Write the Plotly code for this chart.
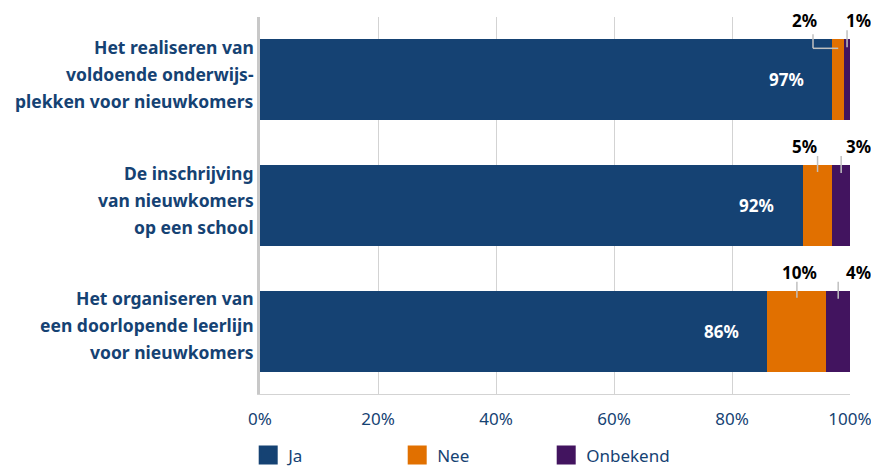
import plotly.graph_objects as go

# ---- data ----
categories = [
    ["Het realiseren van", "voldoende onderwijs-", "plekken voor nieuwkomers"],
    ["De inschrijving", "van nieuwkomers", "op een school"],
    ["Het organiseren van", "een doorlopende leerlijn", "voor nieuwkomers"],
]
ja = [97, 92, 86]
nee = [2, 5, 10]
onbekend = [1, 3, 4]
x_ticks = [0, 20, 40, 60, 80, 100]
x_ticklabels = ["0%", "20%", "40%", "60%", "80%", "100%"]
series_names = ["Ja", "Nee", "Onbekend"]

# ---- style ----
BLUE = "#154273"
ORANGE = "#e17000"
PURPLE = "#42145f"
TEXT = "#154273"
GRID = "#d3d3d3"
FONT = "Noto Sans"
# the page body has an 8px margin, so the figure is sized to the remaining viewport
W, H = 871, 461
ML, MR, MT, MB = 252, 29, 9, 75
BARW = 0.645
PLOT_W = W - ML - MR
PX_X = PLOT_W / 100.0

n = len(categories)
ypos = [n - 1 - i for i in range(n)]  # first category on top

fig = go.Figure()
colors = [BLUE, ORANGE, PURPLE]
vals = [ja, nee, onbekend]
for name, col, v in zip(series_names, colors, vals):
    fig.add_trace(go.Bar(
        y=ypos, x=v, orientation="h", name=name,
        marker=dict(color=col, line=dict(width=0)),
        width=BARW, showlegend=False, hoverinfo="x+name",
    ))
# legend proxies (larger square symbols)
for name, col in zip(series_names, colors):
    fig.add_trace(go.Scatter(
        x=[None], y=[None], mode="markers", name=name,
        marker=dict(symbol="square", size=16, color=col, line=dict(width=3, color=col)),
        showlegend=True,
    ))

annotations = []
shapes = []
LEAD = dict(color="#c0c0c0", width=1.5)
for i, y in enumerate(ypos):
    lines = categories[i]
    for k, line in enumerate(lines):
        annotations.append(dict(
            xref="paper", yref="y", x=0, y=y, xanchor="right", yanchor="middle",
            xshift=-4, yshift=6 + (len(lines) - 1) / 2 * 27 - k * 27,
            text=line, showarrow=False,
            font=dict(family=FONT, size=17.5, color=TEXT, weight="bold"),
        ))
    total = ja[i] + nee[i] + onbekend[i]
    annotations.append(dict(
        xref="x", yref="y", x=ja[i], y=y, xanchor="center", yanchor="middle",
        xshift=-46, text=f"{ja[i]}%", showarrow=False,
        font=dict(family=FONT, size=17, color="white", weight="bold"),
    ))
    top = y + BARW / 2
    annotations.append(dict(
        xref="x", yref="y", x=total, y=top, xanchor="right", yanchor="bottom",
        xshift=-31, yshift=5, text=f"{nee[i]}%", showarrow=False,
        font=dict(family=FONT, size=17, color="black", weight="bold"),
    ))
    annotations.append(dict(
        xref="x", yref="y", x=total, y=top, xanchor="left", yanchor="bottom",
        xshift=-6, yshift=5, text=f"{onbekend[i]}%", showarrow=False,
        font=dict(family=FONT, size=17, color="black", weight="bold"),
    ))
    nee_c = ja[i] + nee[i] / 2
    onb_c = ja[i] + nee[i] + onbekend[i] / 2
    label_right = total - 31 / PX_X
    if nee_c > label_right:
        ex = label_right - 6 / PX_X
        shapes.append(dict(type="line", xref="x", yref="y", ysizemode="pixel", yanchor=top,
                           x0=ex, x1=ex, y0=5, y1=-9, line=LEAD))
        shapes.append(dict(type="line", xref="x", yref="y", ysizemode="pixel", yanchor=top,
                           x0=ex, x1=nee_c, y0=-9, y1=-9, line=LEAD))
    else:
        shapes.append(dict(type="line", xref="x", yref="y", ysizemode="pixel", yanchor=top,
                           x0=nee_c, x1=nee_c, y0=9, y1=-7, line=LEAD))
    shapes.append(dict(type="line", xref="x", yref="y", ysizemode="pixel", yanchor=top,
                       x0=onb_c, x1=onb_c, y0=9, y1=-8, line=LEAD))

fig.update_layout(
    width=W, height=H,
    margin=dict(l=ML, r=MR, t=MT, b=MB, autoexpand=False),
    barmode="stack",
    plot_bgcolor="white", paper_bgcolor="white",
    font=dict(family=FONT, size=17, color=TEXT),
    xaxis=dict(
        range=[0, 100], tickvals=x_ticks, ticktext=x_ticklabels,
        showgrid=True, gridcolor=GRID, gridwidth=1,
        showline=True, linecolor=GRID, linewidth=1,
        zeroline=False, ticks="", ticklabelstandoff=10,
        tickfont=dict(family=FONT, size=17, color=TEXT),
        fixedrange=True, automargin=False,
    ),
    yaxis=dict(
        range=[-0.5, n - 0.5], showticklabels=False, showgrid=False,
        showline=True, linecolor="#c8c8c8", linewidth=3, zeroline=False,
        ticks="", fixedrange=True, automargin=False,
    ),
    legend=dict(
        orientation="h", x=-0.02, xanchor="left", y=-0.115, yanchor="top",
        traceorder="normal",
        font=dict(family=FONT, size=17, color=TEXT),
        entrywidth=104, entrywidthmode="pixels", itemclick=False,
        bgcolor="rgba(0,0,0,0)",
    ),
    annotations=annotations,
    shapes=shapes,
)

fig.write_html("out.html")
